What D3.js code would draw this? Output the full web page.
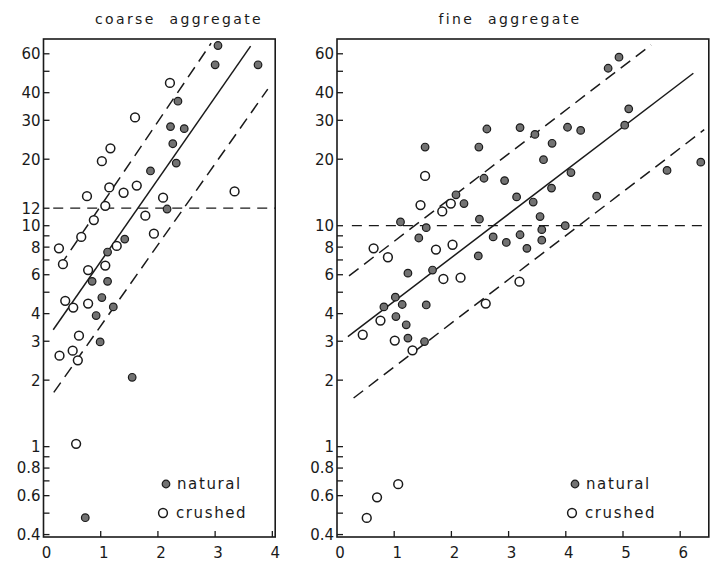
<!DOCTYPE html>
<html>
<head>
<meta charset="utf-8">
<script src="https://cdn.jsdelivr.net/npm/d3@7"></script>
<style>
  html, body { margin: 0; padding: 0; background: #fff; }
  svg { display: block; }
  .tick-label { font-family: "DejaVu Sans", sans-serif; font-size: 15px; fill: #1a1a1a; }
  .panel-title { font-family: "DejaVu Sans", sans-serif; font-size: 14px; letter-spacing: 2.4px; fill: #1a1a1a; white-space: pre; }
  .legend-label { font-family: "DejaVu Sans", sans-serif; font-size: 15px; letter-spacing: 1.6px; fill: #1a1a1a; }
</style>
</head>
<body>
<div id="chart"></div>
<script>
// ---- data (x, y) ----
const coarseNatural = [
  [3.05, 65.4], [3.00, 53.5], [3.75, 53.5], [2.35, 36.6], [2.22, 28.1], [2.46, 27.5],
  [2.26, 23.5], [2.32, 19.2], [1.87, 17.7], [2.16, 11.9], [1.42, 8.7], [1.12, 7.6],
  [0.85, 5.6], [1.12, 5.6], [1.02, 4.73], [1.22, 4.29], [0.92, 3.92], [0.99, 2.98],
  [1.55, 2.06], [0.73, 0.477]
];
const coarseCrushed = [
  [2.21, 44.3], [1.60, 30.9], [1.17, 22.4], [1.02, 19.6], [1.15, 14.9], [1.40, 14.1],
  [1.63, 15.2], [0.76, 13.6], [2.09, 13.4], [3.34, 14.3], [1.08, 12.3], [1.78, 11.1],
  [0.88, 10.6], [1.93, 9.2], [0.66, 8.9], [0.27, 7.9], [1.28, 8.1], [0.34, 6.7],
  [0.78, 6.3], [1.08, 6.6], [0.38, 4.57], [0.52, 4.26], [0.78, 4.44], [0.62, 3.18],
  [0.28, 2.58], [0.51, 2.72], [0.60, 2.46], [0.57, 1.03]
];
const fineNatural = [
  [4.93, 57.9], [4.74, 51.6], [5.10, 33.8], [5.03, 28.5], [2.62, 27.4], [3.20, 27.8],
  [4.03, 27.9], [4.26, 27.0], [3.46, 25.9], [3.76, 23.6], [1.54, 22.7], [2.48, 22.7],
  [3.61, 19.9], [4.09, 17.4], [5.77, 17.8], [6.36, 19.4], [2.57, 16.4], [2.93, 16.0],
  [2.08, 13.8], [2.22, 12.6], [3.14, 13.5], [3.43, 12.8], [3.75, 14.8], [4.54, 13.6],
  [1.11, 10.4], [2.49, 10.7], [3.55, 11.0], [3.99, 10.0], [1.56, 9.8], [1.43, 8.8],
  [2.73, 8.9], [2.96, 8.4], [3.20, 9.1], [3.58, 9.6], [3.32, 7.9], [3.58, 8.6],
  [2.47, 7.3], [1.24, 6.1], [1.67, 6.3], [1.02, 4.75], [1.14, 4.40], [0.82, 4.29],
  [1.56, 4.38], [1.03, 3.88], [1.21, 3.56], [1.24, 3.10], [1.53, 2.99]
];
const fineCrushed = [
  [1.54, 16.8], [1.46, 12.4], [1.84, 11.6], [1.99, 12.6], [0.64, 7.9], [0.89, 7.2],
  [1.73, 7.8], [2.02, 8.2], [1.86, 5.74], [2.16, 5.82], [3.19, 5.58], [2.60, 4.44],
  [0.76, 3.72], [0.45, 3.21], [1.01, 3.02], [1.32, 2.73], [0.52, 0.476], [0.70, 0.590],
  [1.07, 0.676]
];

// regression line and band limits, as end points in data units
const coarseFit = [[0.17, 3.38], [3.62, 65.0]];
const coarseUpper = [[0.29, 6.58], [2.93, 67.0]];
const coarseLower = [[0.18, 1.76], [3.92, 41.5]];
const coarseLimit = [[0.17, 12], [4.05, 12]];

const fineFit = [[0.19, 3.15], [6.23, 49.0]];
const fineUpper = [[0.21, 5.93], [5.49, 65.8]];
const fineLower = [[0.29, 1.66], [6.42, 27.2]];
const fineLimit = [[0.26, 10], [6.5, 10]];

// axis ticks
const coarseYLabels = [0.4, 0.6, 0.8, 1, 2, 3, 4, 6, 8, 10, 12, 20, 30, 40, 60];
const fineYLabels = [0.4, 0.6, 0.8, 1, 2, 3, 4, 6, 8, 10, 20, 30, 40, 60];
const yMinorTicks = [0.5, 0.7, 0.9, 5, 7, 9, 50];
const coarseXTicks = [0, 1, 2, 3, 4];
const fineXTicks = [0, 1, 2, 3, 4, 5, 6];

const Chart = {
  width: 712,
  height: 561,

  init() {
    const svg = d3.select('#chart').append('svg')
      .attr('width', this.width)
      .attr('height', this.height);

    this.drawPanel(svg, {
      title: 'coarse  aggregate', titleX: 179,
      xDomain: [0, 4.05], xRange: [43.5, 275.2],
      xTicks: coarseXTicks, yLabels: coarseYLabels,
      natural: coarseNatural, crushed: coarseCrushed,
      fit: coarseFit, upper: coarseUpper, lower: coarseLower, limit: coarseLimit,
      legendX: 166
    });

    this.drawPanel(svg, {
      title: 'fine  aggregate', titleX: 510,
      xDomain: [0, 6.5], xRange: [337, 708.8],
      xTicks: fineXTicks, yLabels: fineYLabels,
      natural: fineNatural, crushed: fineCrushed,
      fit: fineFit, upper: fineUpper, lower: fineLower, limit: fineLimit,
      legendX: 575
    });
  },

  /**
   * Draws one log-y panel with its frame, ticks, points, fit lines and legend
   */
  drawPanel(svg, p) {
    const x = d3.scaleLinear().domain(p.xDomain).range(p.xRange);
    const y = d3.scaleLog().domain([0.39, 70]).range([537, 39]);
    const [x0, x1] = p.xRange;
    const [yb, yt] = y.range();
    const ink = '#1a1a1a';

    const g = svg.append('g');

    g.append('text')
      .attr('class', 'panel-title')
      .attr('x', p.titleX)
      .attr('y', 24)
      .attr('text-anchor', 'middle')
      .text(p.title);

    // frame
    g.append('rect')
      .attr('x', x0).attr('y', yt)
      .attr('width', x1 - x0).attr('height', yb - yt)
      .attr('fill', 'none')
      .attr('stroke', ink)
      .attr('stroke-width', 1.6);

    // y ticks point inward
    g.selectAll('.ytick')
      .data(p.yLabels.concat(yMinorTicks))
      .enter().append('line')
      .attr('x1', x0).attr('x2', x0 + 6)
      .attr('y1', d => y(d)).attr('y2', d => y(d))
      .attr('stroke', ink).attr('stroke-width', 1.3);

    g.selectAll('.ylabel')
      .data(p.yLabels)
      .enter().append('text')
      .attr('class', 'tick-label')
      .attr('x', x0 - 3)
      .attr('y', d => y(d))
      .attr('dy', '0.36em')
      .attr('text-anchor', 'end')
      .text(d => d);

    g.selectAll('.xtick')
      .data(p.xTicks.slice(1))
      .enter().append('line')
      .attr('x1', d => x(d)).attr('x2', d => x(d))
      .attr('y1', yb).attr('y2', yb - 6)
      .attr('stroke', ink).attr('stroke-width', 1.3);

    g.selectAll('.xlabel')
      .data(p.xTicks)
      .enter().append('text')
      .attr('class', 'tick-label')
      .attr('x', d => x(d) + 3)
      .attr('y', 558)
      .attr('text-anchor', 'middle')
      .text(d => d);

    const line = d3.line().x(d => x(d[0])).y(d => y(d[1]));

    g.append('path').datum(p.limit)
      .attr('d', line).attr('fill', 'none')
      .attr('stroke', ink).attr('stroke-width', 1.3)
      .attr('stroke-dasharray', '10,7');

    [p.upper, p.lower].forEach(band => {
      g.append('path').datum(band)
        .attr('d', line).attr('fill', 'none')
        .attr('stroke', ink).attr('stroke-width', 1.5)
        .attr('stroke-dasharray', '12,7');
    });

    g.append('path').datum(p.fit)
      .attr('d', line).attr('fill', 'none')
      .attr('stroke', ink).attr('stroke-width', 1.5);

    g.selectAll('.crushed')
      .data(p.crushed)
      .enter().append('circle')
      .attr('cx', d => x(d[0])).attr('cy', d => y(d[1]))
      .attr('r', 4.4)
      .attr('fill', '#fff')
      .attr('stroke', ink).attr('stroke-width', 1.5);

    g.selectAll('.natural')
      .data(p.natural)
      .enter().append('circle')
      .attr('cx', d => x(d[0])).attr('cy', d => y(d[1]))
      .attr('r', 3.8)
      .attr('fill', '#727272')
      .attr('stroke', ink).attr('stroke-width', 1.2);

    // legend
    const lg = g.append('g').attr('transform', `translate(${p.legendX},484)`);
    lg.append('circle').attr('cx', 0).attr('cy', 0).attr('r', 3.8)
      .attr('fill', '#727272').attr('stroke', ink).attr('stroke-width', 1.2);
    lg.append('text').attr('class', 'legend-label')
      .attr('x', 11).attr('y', 5).text('natural');
    lg.append('circle').attr('cx', -3).attr('cy', 29).attr('r', 4.4)
      .attr('fill', '#fff').attr('stroke', ink).attr('stroke-width', 1.5);
    lg.append('text').attr('class', 'legend-label')
      .attr('x', 10).attr('y', 34).text('crushed');
  }
};

document.addEventListener('DOMContentLoaded', () => {
  Chart.init();
});
</script>
</body>
</html>
